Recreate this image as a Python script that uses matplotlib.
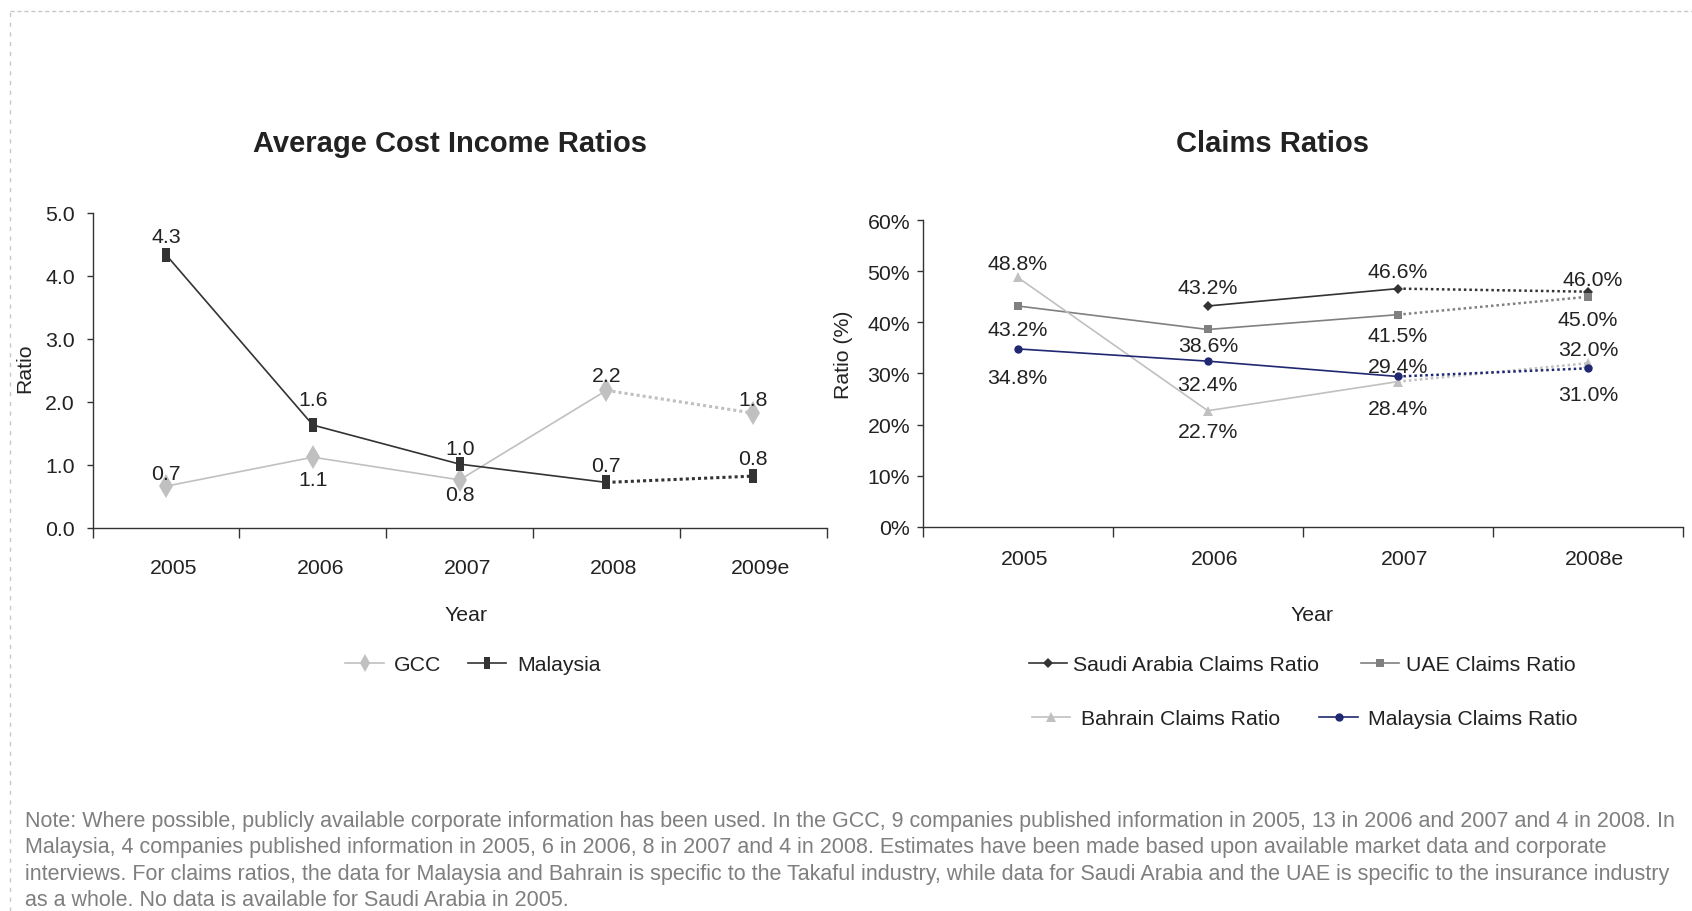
import numpy as np
import matplotlib
matplotlib.use("Agg")
import matplotlib.pyplot as plt
from matplotlib.lines import Line2D
from matplotlib.ticker import FixedLocator, FuncFormatter
from matplotlib.transforms import ScaledTranslation

plt.rcParams['font.family'] = ['Liberation Sans', 'DejaVu Sans']

# left chart data
costYears = ["2005", "2006", "2007", "2008", "2009e"]
gccRatio = [0.66, 1.12, 0.76, 2.18, 1.82]
malaysiaRatio = [4.33, 1.63, 1.01, 0.72, 0.82]

# right chart data (percent)
claimYears = ["2005", "2006", "2007", "2008e"]
saudiClaims = [np.nan, 43.2, 46.6, 46.0]
uaeClaims = [43.2, 38.6, 41.5, 45.0]
bahrainClaims = [48.8, 22.7, 28.4, 32.0]
malaysiaClaims = [34.8, 32.4, 29.4, 31.0]

noteText = ("Note: Where possible, publicly available corporate information has been used. In the GCC, 9 companies published information in 2005, 13 in 2006 and 2007 and 4 in 2008. In\n"
            "Malaysia, 4 companies published information in 2005, 6 in 2006, 8 in 2007 and 4 in 2008. Estimates have been made based upon available market data and corporate\n"
            "interviews. For claims ratios, the data for Malaysia and Bahrain is specific to the Takaful industry, while data for Saudi Arabia and the UAE is specific to the insurance industry\n"
            "as a whole. No data is available for Saudi Arabia in 2005.")

# label offsets in pixels (positive = up)
gccOff = [13, -22, -15, 15, 14]
malOff = [18, 26, 16, 17, 18]
saudiOff = [0, 18, 17, 12]
uaeOff = [-24, -16, -21, -23]
bahrainOff = [14, -21, -27, 14]
malClaimOff = [-29, -23, 10, -26]

FS = 15.3
TXT = "#222222"

fig = plt.figure(figsize=(16.92, 9.12), dpi=100)

# dashed frame
fig.add_artist(Line2D([0.0057, 1.0], [0.987, 0.987], color="#c8c8c8", lw=1, ls=(0, (3, 2))))
fig.add_artist(Line2D([0.0057, 0.0057], [0.0, 0.987], color="#c8c8c8", lw=1, ls=(0, (3, 4))))


def style_axes(ax, n):
    for s in ["top", "right"]:
        ax.spines[s].set_visible(False)
    for s in ["left", "bottom"]:
        ax.spines[s].set_color("#333333")
        ax.spines[s].set_linewidth(1)
    ax.set_xlim(-0.5, n - 0.5)
    ax.xaxis.set_major_locator(FixedLocator(range(n)))
    ax.xaxis.set_minor_locator(FixedLocator(np.arange(n + 1) - 0.5))
    ax.tick_params(axis="x", which="major", length=0, labelsize=FS, colors=TXT)
    ax.tick_params(axis="x", which="minor", length=7, width=1, color="#333333")
    ax.tick_params(axis="y", length=4, width=1, color="#333333", labelsize=FS, labelcolor=TXT)


def shift_xlabels(ax, px):
    # category labels sit a little right of the points, as in the original
    for lab in ax.get_xticklabels():
        lab.set_transform(lab.get_transform() + ScaledTranslation(px / 100, 0, fig.dpi_scale_trans))


def label_points(ax, xs, vals, offs, fmt, dxs=None):
    for i, (x, v, o) in enumerate(zip(xs, vals, offs)):
        if np.isnan(v):
            continue
        dx = dxs[i] if dxs else 0
        ax.annotate(fmt(v), (x, v), xytext=(dx, o), textcoords="offset pixels",
                    ha="center", va="center", fontsize=FS, color=TXT)


# ---- left chart
ax1 = fig.add_axes([0.0548, 0.4202, 0.4337, 0.3455])
style_axes(ax1, len(costYears))
x1 = np.arange(len(costYears))
ax1.set_ylim(0, 5)
ax1.set_yticks(np.arange(0, 5.1, 1))
ax1.yaxis.set_major_formatter(FuncFormatter(lambda v, p: f"{v:.1f}"))
ax1.tick_params(axis="y", pad=9)
ax1.tick_params(axis="x", which="major", pad=22)
ax1.set_xticklabels(costYears)
shift_xlabels(ax1, 7.5)

gccC = "#c0c0c0"
malC = "#333333"
rect = [(-0.55, -1), (0.55, -1), (0.55, 1), (-0.55, 1), (-0.55, -1)]
ax1.plot(x1[:4], gccRatio[:4], color=gccC, lw=1.2)
ax1.plot(x1[3:], gccRatio[3:], color=gccC, lw=2.2, ls=(0, (1, 1)))
ax1.plot(x1, gccRatio, ls="none", marker="d", ms=12, color=gccC, markeredgewidth=0)
ax1.plot(x1[:4], malaysiaRatio[:4], color=malC, lw=1.2)
ax1.plot(x1[3:], malaysiaRatio[3:], color=malC, lw=2.2, ls=(0, (1, 1)))
ax1.plot(x1, malaysiaRatio, ls="none", marker=rect, ms=10, color=malC, markeredgewidth=0)
label_points(ax1, x1, gccRatio, gccOff, lambda v: f"{v:.1f}")
label_points(ax1, x1, malaysiaRatio, malOff, lambda v: f"{v:.1f}")

ax1.set_ylabel("Ratio", fontsize=FS, color=TXT)
ax1.yaxis.set_label_coords(-0.08, 0.51)
ax1.set_xlabel("Year", fontsize=FS, color=TXT)
ax1.xaxis.set_label_coords(0.5086, -0.245)
fig.text(450 / 1692, 1 - 143.5 / 912, "Average Cost Income Ratios", fontsize=21, fontweight="bold",
         color=TXT, ha="center", va="center")

leftHandles = [
    Line2D([], [], color=gccC, lw=1.2, marker="d", ms=9, markeredgewidth=0),
    Line2D([], [], color=malC, lw=1.2, marker=rect, ms=9, markeredgewidth=0),
]
ax1.legend(leftHandles, ["GCC", "Malaysia"], ncol=2, frameon=False, fontsize=FS,
           loc="center", bbox_to_anchor=(473 / 1692, 1 - 666 / 912), bbox_transform=fig.transFigure,
           handlelength=1.8, handletextpad=0.5, columnspacing=1.25, labelcolor=TXT)

# ---- right chart
ax2 = fig.add_axes([0.5453, 0.4214, 0.4494, 0.3361])
style_axes(ax2, len(claimYears))
x2 = np.arange(len(claimYears))
ax2.set_ylim(0, 60)
ax2.set_yticks(np.arange(0, 61, 10))
ax2.yaxis.set_major_formatter(FuncFormatter(lambda v, p: f"{v:.0f}%"))
ax2.tick_params(axis="y", pad=5)
ax2.tick_params(axis="x", which="major", pad=16)
ax2.set_xticklabels(claimYears)
shift_xlabels(ax2, 6.5)

saudiC = "#333333"
uaeC = "#808080"
bahrainC = "#c0c0c0"
malCC = "#1f2870"
series = [
    (saudiClaims, saudiC, "D", 5, "Saudi Arabia Claims Ratio"),
    (uaeClaims, uaeC, "s", 6, "UAE Claims Ratio"),
    (bahrainClaims, bahrainC, "^", 7, "Bahrain Claims Ratio"),
    (malaysiaClaims, malCC, "o", 6, "Malaysia Claims Ratio"),
]
for vals, c, m, ms, name in series:
    ax2.plot(x2[:3], vals[:3], color=c, lw=1.2)
    ax2.plot(x2[2:], vals[2:], color=c, lw=1.8, ls=(0, (1, 1.2)))
    ax2.plot(x2, vals, ls="none", marker=m, ms=ms, color=c, markeredgewidth=0)

pct = lambda v: f"{v:.1f}%"
label_points(ax2, x2, saudiClaims, saudiOff, pct, dxs=[0, 0, 0, 5])
label_points(ax2, x2, uaeClaims, uaeOff, pct)
label_points(ax2, x2, bahrainClaims, bahrainOff, pct)
label_points(ax2, x2, malaysiaClaims, malClaimOff, pct)

ax2.set_ylabel("Ratio (%)", fontsize=FS, color=TXT)
ax2.yaxis.set_label_coords(-0.092, 0.5635)
ax2.set_xlabel("Year", fontsize=FS, color=TXT)
ax2.xaxis.set_label_coords(0.512, -0.2555)
fig.text(1272 / 1692, 1 - 143.5 / 912, "Claims Ratios", fontsize=21, fontweight="bold",
         color=TXT, ha="center", va="center")

rightHandles = [Line2D([], [], color=c, lw=1.2, marker=m, ms=ms, markeredgewidth=0)
                for vals, c, m, ms, name in series]
names = [s[4] for s in series]
legA = ax2.legend(rightHandles[:2], names[:2], ncol=2, frameon=False, fontsize=FS,
                  loc="center", bbox_to_anchor=(1302 / 1692, 1 - 666 / 912), bbox_transform=fig.transFigure,
                  handlelength=1.8, handletextpad=0.3, columnspacing=1.95, labelcolor=TXT)
ax2.add_artist(legA)
ax2.legend(rightHandles[2:], names[2:], ncol=2, frameon=False, fontsize=FS,
           loc="center", bbox_to_anchor=(1305 / 1692, 1 - 720 / 912), bbox_transform=fig.transFigure,
           handlelength=1.8, handletextpad=0.5, columnspacing=1.85, labelcolor=TXT)

fig.text(25 / 1692, 1 - 811 / 912, noteText, fontsize=15.5, color="#7f7f7f", va="top", ha="left",
         linespacing=1.33)

fig.savefig("out.png", dpi=100)
